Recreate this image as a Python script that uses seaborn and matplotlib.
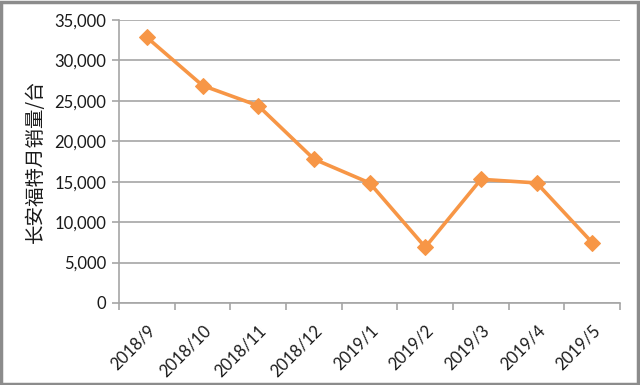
import matplotlib
matplotlib.use("Agg")
import matplotlib.pyplot as plt
import seaborn as sns
import pandas as pd
import numpy as np
from matplotlib.patches import Rectangle
from matplotlib.ticker import FuncFormatter, FixedLocator

months = ["2018/9", "2018/10", "2018/11", "2018/12", "2019/1", "2019/2", "2019/3", "2019/4", "2019/5"]
sales = [32850, 26900, 24400, 17800, 14850, 6900, 15300, 14850, 7450]
ylabel = "长安福特月销量/台"

sns.set_theme(style="white")
plt.rcParams['font.family'] = ['Lato', 'DejaVu Sans']

df = pd.DataFrame({"month": months, "sales": sales})

fig = plt.figure(figsize=(6.4, 3.85), dpi=100)
ax = fig.add_axes([0.186, 0.213, 0.783, 0.735])

sns.lineplot(data=df, x="month", y="sales", ax=ax, color="#F79646", linewidth=2.6,
             marker="D", markersize=8, markeredgecolor="#F79646", sort=False)

ax.set_xlim(-0.5, len(months) - 0.5)
ax.set_ylim(0, 35000)
ax.set_yticks(np.arange(0, 35001, 5000))
ax.yaxis.set_major_formatter(FuncFormatter(lambda v, p: f"{int(v):,}"))
ax.grid(axis="y", color="#A6A6A6", linewidth=1.2)
ax.grid(axis="x", visible=False)
ax.set_axisbelow(True)

for s in ["top", "right"]:
    ax.spines[s].set_visible(False)
for s in ["left", "bottom"]:
    ax.spines[s].set_color("#A6A6A6")
    ax.spines[s].set_linewidth(1.2)

ax.set_xticks(range(len(months)))
ax.set_xticklabels(months, rotation=45, ha="right", rotation_mode="anchor", fontsize=12, color="#1a1a1a")
ax.xaxis.set_minor_locator(FixedLocator(np.arange(-0.5, len(months), 1.0)))
ax.tick_params(axis="x", which="major", length=0, pad=14)
ax.tick_params(axis="x", which="minor", length=5, color="#A6A6A6", width=1.2, direction="out", bottom=True)
ax.tick_params(axis="y", which="major", length=5, color="#A6A6A6", width=1.2, direction="out", left=True,
               labelsize=12, labelcolor="#1a1a1a", pad=4)

ax.set_xlabel("")
ax.set_ylabel(ylabel, family=['Noto Sans CJK SC', 'DejaVu Sans'], fontsize=14, color="#1a1a1a", labelpad=6)

fig.patches.append(Rectangle((0.002, 0.003), 0.995, 0.993, transform=fig.transFigure,
                             fill=False, edgecolor="#8C8C8C", linewidth=2.5))

fig.savefig("out.png", dpi=100)
